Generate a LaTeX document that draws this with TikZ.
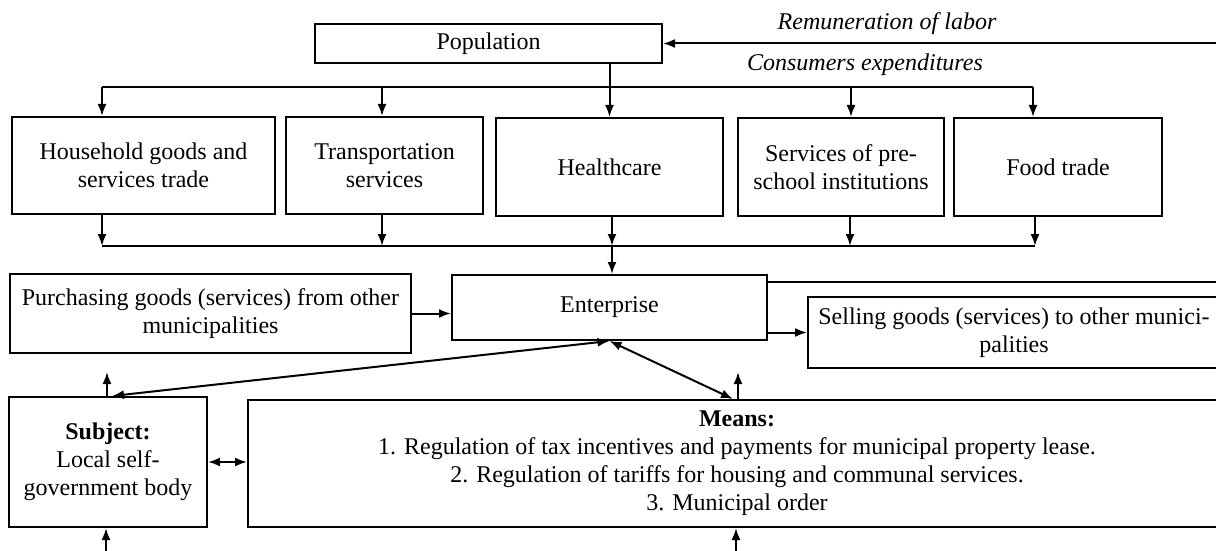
\documentclass[tikz,border=0pt]{standalone}
\usepackage{fontspec}
\setmainfont{Liberation Serif}
\usetikzlibrary{positioning}
\usetikzlibrary{arrows.meta}

\begin{document}
\begin{tikzpicture}[block/.style={
			draw,
			rectangle,
			align=center,
			inner sep=2pt,
			font=\fontsize{12pt}{14pt}\selectfont,
		}, flowtext/.style={font=\fontsize{12pt}{14pt}\selectfont\itshape},
		conn/.style={-{Latex[length=6pt,width=4.5pt]}},
		biconn/.style={{Latex[length=6pt,width=4.5pt]}-{Latex[length=6pt,width=4.5pt]}},
		line width=1pt, x=0.5pt, y=-0.5pt]
		\useasboundingbox (0,0) rectangle (1216,551);
		
		\node[block, minimum width=173.5pt, minimum height=19.5pt] (pop) at (488.5,43.5) {Population};
		\node[flowtext] (wage) at (887,24) {Remuneration of labor};
		\node[flowtext] (spend) at (865,65) {Consumers expenditures};
		
		\node[block, minimum width=131.5pt, minimum height=48.5pt] (trade) at (143.5,165.5) {Household goods and\\services trade};
		\node[block, minimum width=98.5pt, minimum height=48.5pt] (transport) at (384.5,165.5) {Transportation\\services};
		\node[block, minimum width=113.5pt, minimum height=49pt] (health) at (609.5,167) {Healthcare};
		\node[block, minimum width=103pt, minimum height=49pt] (school) at (841,167) {Services of pre-\\school institutions};
		\node[block, minimum width=104pt, minimum height=49pt] (food) at (1058,167) {Food trade};
		
		\node[block, minimum width=200.5pt, minimum height=39.5pt] (buy) at (210.5,313.5) {Purchasing goods (services) from other\\municipalities};
		\node[block, minimum width=157.5pt, minimum height=32.5pt] (ent) at (609.5,307.5) {Enterprise};
		\node[block, minimum width=206pt, minimum height=35.5pt] (sell) at (1014,332.5) {Selling goods (services) to other munici-\\palities};
		
		\node[block, minimum width=99pt, minimum height=65pt] (subj) at (108,462) {\textbf{Subject:}\\Local self-\\government body};
		\node[block, minimum width=489pt, minimum height=63.5pt] (means) at (737,463.5) {\textbf{Means:}\\1. Regulation of tax incentives and payments for municipal property lease.\\2. Regulation of tariffs for housing and communal services.\\3. Municipal order};
		
		% consumers expenditures
		\coordinate (b1) at (102,87);
		\coordinate (b2) at (382,87);
		\coordinate (b3) at (851,87);
		\coordinate (b4) at (1033,87);
		\draw (b1) -- (b4);
		\draw[conn] (b1) -- (b1 |- trade.north);
		\draw[conn] (b2) -- (b2 |- transport.north);
		\draw[conn] (b3) -- (b3 |- school.north);
		\draw[conn] (b4) -- (b4 |- food.north);
		\draw[conn] (pop.south -| health.north) -- (health.north);
		
		% to enterprise
		\coordinate (c1) at (102,246);
		\coordinate (c2) at (382,246);
		\coordinate (c3) at (612,246);
		\coordinate (c4) at (850,246);
		\coordinate (c5) at (1035,246);
		\draw (c1) -- (c5);
		\draw[conn] (c1 |- trade.south) -- (c1);
		\draw[conn] (c2 |- transport.south) -- (c2);
		\draw[conn] (c3 |- health.south) -- (c3);
		\draw[conn] (c4 |- school.south) -- (c4);
		\draw[conn] (c5 |- food.south) -- (c5);
		\draw[conn] (c3) -- (c3 |- ent.north);
		
		% remuneration of labor
		\draw[conn] (ent.north east)++(0,8) --++(470,0) |- (pop.east);
		
		\draw[conn] (buy.east) -- (buy.east -| ent.west);
		\draw[conn] (ent.east |- sell.west) -- (sell.west);
		\draw[biconn] (ent.south) -- ([xshift=2pt]subj.north);
		\draw[biconn] (ent.south) -- ([xshift=-2pt]means.north);
		\draw[biconn] (subj.east) -- (subj.east -| means.west);
		
		\coordinate (u1) at (107,372);
		\coordinate (u2) at (738,372);
		\draw[conn] (u1 |- subj.north) -- (u1);
		\draw[conn] (u2 |- means.north) -- (u2);
		
		\coordinate (d1) at (106,551);
		\coordinate (d2) at (736,551);
		\draw[conn] (d1) -- (d1 |- subj.south);
		\draw[conn] (d2) -- (d2 |- means.south);
	\end{tikzpicture}
\end{document}
